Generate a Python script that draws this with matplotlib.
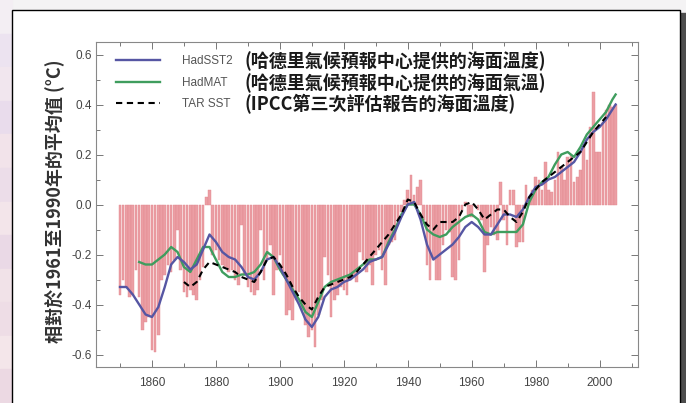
import matplotlib

matplotlib.use("Agg")
import matplotlib.pyplot as plt
from matplotlib.patches import Rectangle

plt.rcParams["font.family"] = ["Liberation Sans", "DejaVu Sans"]
plt.rcParams["axes.unicode_minus"] = False

W, H = 686, 403
CJK = ["Noto Sans CJK TC", "DejaVu Sans"]

# ── data ──────────────────────────────────────────────────────────────────────
years = list(range(1850, 2006))
sst_annual = [
    -0.36, -0.30, -0.33, -0.37, -0.36, -0.26, -0.37, -0.50, -0.47, -0.45,  # 1850s
    -0.58, -0.59, -0.52, -0.30, -0.28, -0.24, -0.27, -0.22, -0.10, -0.26,  # 1860s
    -0.35, -0.37, -0.34, -0.36, -0.38, -0.30, -0.25, 0.03, 0.06, -0.20,    # 1870s
    -0.18, -0.22, -0.24, -0.25, -0.27, -0.26, -0.30, -0.32, -0.08, -0.28,  # 1880s
    -0.33, -0.35, -0.36, -0.34, -0.10, -0.30, -0.22, -0.16, -0.36, -0.26,  # 1890s
    -0.20, -0.28, -0.44, -0.42, -0.46, -0.38, -0.35, -0.42, -0.48, -0.53,  # 1900s
    -0.50, -0.57, -0.44, -0.38, -0.21, -0.28, -0.45, -0.38, -0.36, -0.33,  # 1910s
    -0.34, -0.36, -0.30, -0.29, -0.31, -0.19, -0.22, -0.27, -0.24, -0.32,  # 1920s
    -0.20, -0.18, -0.26, -0.32, -0.16, -0.15, -0.14, -0.06, -0.03, 0.02,   # 1930s
    0.06, 0.12, 0.04, 0.07, 0.10, -0.06, -0.24, -0.30, -0.22, -0.30,       # 1940s
    -0.30, -0.16, -0.10, -0.11, -0.29, -0.30, -0.22, -0.02, 0.01, -0.04,   # 1950s
    -0.05, 0.00, -0.02, -0.06, -0.27, -0.16, -0.09, -0.12, -0.14, 0.09,    # 1960s
    -0.06, -0.16, 0.06, 0.06, -0.17, -0.15, -0.15, 0.08, 0.03, 0.06,       # 1970s
    0.11, 0.10, 0.06, 0.17, 0.06, 0.05, 0.10, 0.21, 0.15, 0.10,            # 1980s
    0.19, 0.20, 0.09, 0.11, 0.14, 0.23, 0.18, 0.31, 0.45, 0.21,            # 1990s
    0.21, 0.33, 0.38, 0.40, 0.39, 0.40,                                    # 2000s
]

sst_smooth_years = list(range(1850, 2005, 2)) + [2005]
sst_smooth = [
    -0.33, -0.33, -0.36, -0.40, -0.44, -0.45, -0.41, -0.33, -0.24, -0.21,
    -0.23, -0.26, -0.24, -0.18, -0.12, -0.15, -0.19, -0.21, -0.22, -0.25,
    -0.29, -0.30, -0.27, -0.22, -0.21, -0.25, -0.30, -0.35, -0.40, -0.46,
    -0.49, -0.45, -0.37, -0.34, -0.33, -0.31, -0.30, -0.28, -0.26, -0.23,
    -0.22, -0.21, -0.16, -0.11, -0.05, 0.00, 0.01, -0.06, -0.16, -0.22,
    -0.20, -0.18, -0.16, -0.13, -0.09, -0.07, -0.09, -0.12, -0.12, -0.08,
    -0.04, -0.04, -0.05, -0.02, 0.03, 0.07, 0.08, 0.10, 0.11, 0.13,
    0.15, 0.17, 0.21, 0.26, 0.29, 0.31, 0.34, 0.38, 0.40,
]

mat_years = list(range(1856, 2005, 2)) + [2005]
mat_smooth = [
    -0.23, -0.24, -0.24, -0.22, -0.20, -0.17, -0.19, -0.25, -0.27, -0.22,
    -0.17, -0.17, -0.22, -0.27, -0.29, -0.29, -0.28, -0.28, -0.27, -0.24,
    -0.19, -0.21, -0.26, -0.30, -0.34, -0.38, -0.43, -0.45, -0.39, -0.33,
    -0.31, -0.30, -0.29, -0.28, -0.26, -0.24, -0.22, -0.22, -0.21, -0.15,
    -0.10, -0.04, 0.00, 0.00, -0.04, -0.10, -0.12, -0.13, -0.12, -0.09,
    -0.07, -0.05, -0.04, -0.06, -0.11, -0.12, -0.11, -0.11, -0.11, -0.11,
    -0.08, 0.01, 0.06, 0.09, 0.11, 0.16, 0.20, 0.21, 0.19, 0.23,
    0.28, 0.31, 0.34, 0.37, 0.42, 0.44,
]

tar_years = list(range(1870, 2003, 2))
tar_sst = [
    -0.31, -0.33, -0.31, -0.26, -0.23, -0.24, -0.25, -0.26, -0.27, -0.29,
    -0.30, -0.31, -0.27, -0.22, -0.21, -0.24, -0.28, -0.33, -0.37, -0.40,
    -0.42, -0.37, -0.33, -0.32, -0.31, -0.30, -0.29, -0.27, -0.24, -0.21,
    -0.18, -0.15, -0.12, -0.08, -0.04, 0.02, 0.01, -0.04, -0.08, -0.10,
    -0.07, -0.07, -0.07, -0.05, 0.00, 0.01, -0.02, -0.06, -0.04, -0.02,
    -0.02, -0.05, -0.07, -0.03, 0.03, 0.06, 0.09, 0.11, 0.13, 0.15,
    0.17, 0.19, 0.21, 0.25, 0.29, 0.32, 0.35,
]

legend_names = ["HadSST2", "HadMAT", "TAR SST"]
legend_cjk = [
    "(哈德里氣候預報中心提供的海面溫度)",
    "(哈德里氣候預報中心提供的海面氣溫)",
    "(IPCC第三次評估報告的海面溫度)",
]
y_label = "相對於1961至1990年的平均值 (°C)"
x_ticks = list(range(1860, 2001, 20))
y_ticks = [-0.6, -0.4, -0.2, 0.0, 0.2, 0.4, 0.6]

# ── page background: slide edge, card and shadow ─────────────────────────────
fig = plt.figure(figsize=(W / 100, H / 100), dpi=100)
fig.patch.set_facecolor("#f4f3f4")

stripe_colors = ["#f3eef3", "#ece3f0", "#f1e6ee", "#e9dcec", "#f2e3ea",
                 "#ecdde9", "#f3e5ea", "#ead9e6", "#f1e2e8", "#eedde6",
                 "#f4e6ea", "#ecd9e3"]
n = len(stripe_colors)
for i, c in enumerate(stripe_colors):
    fig.add_artist(Rectangle((0, 1 - (i + 1) / n), 12 / W, 1 / n,
                             transform=fig.transFigure, color=c, zorder=0))
fig.add_artist(Rectangle((680 / W, 0), 6 / W, 1 - 13 / H, transform=fig.transFigure,
                         color="#4d4d4d", zorder=0))
fig.add_artist(Rectangle((12 / W, -0.02), 668 / W, 1 - 10 / H + 0.02,
                         transform=fig.transFigure, facecolor="white",
                         edgecolor="black", linewidth=1.0, zorder=0))

# ── chart ─────────────────────────────────────────────────────────────────────
ax = fig.add_axes([96 / W, 36 / H, 542 / W, 325 / H])
ax.bar(years, sst_annual, width=0.82, color="#eb9ea4", edgecolor="#e3878f",
       linewidth=0.3, zorder=1)
h_mat, = ax.plot(mat_years, mat_smooth, color="#3f9d5e", lw=1.7, zorder=3)
h_sst, = ax.plot(sst_smooth_years, sst_smooth, color="#5656a3", lw=1.7, zorder=4)
h_tar, = ax.plot(tar_years, tar_sst, color="black", lw=1.5, ls=(0, (3, 2.2)), zorder=5)

ax.set_xlim(1842.5, 2012)
ax.set_ylim(-0.65, 0.65)
ax.set_xticks(x_ticks)
ax.set_xticks(range(1850, 2011, 10), minor=True)
ax.set_yticks(y_ticks)
ax.set_yticks([v / 10 for v in range(-6, 7)], minor=True)
ax.set_yticklabels([f"{v:.1f}" for v in y_ticks])
ax.tick_params(which="both", direction="in", top=True, right=True,
               color="#777777", labelsize=8.5, labelcolor="#444444", width=0.7)
ax.tick_params(which="major", length=5)
ax.tick_params(which="minor", length=3)
ax.tick_params(axis="x", which="major", pad=7)
ax.tick_params(axis="y", which="major", pad=3)
for s in ax.spines.values():
    s.set_color("#888888")
    s.set_linewidth(0.8)

fs = 8.5
leg = ax.legend([h_sst, h_mat, h_tar], legend_names, loc="upper left",
                bbox_to_anchor=(20 / 542, 1 - 13.5 / 325), frameon=False, fontsize=fs,
                handlelength=3.7, handletextpad=1.85, labelspacing=0.8,
                borderaxespad=0, borderpad=0)
for t in leg.get_texts():
    t.set_color("#555555")

fig.canvas.draw()
for t, cjk in zip(leg.get_texts(), legend_cjk):
    bb = t.get_window_extent()
    fig.text(245 / W, (bb.y0 + bb.y1) / 2 / H, cjk, ha="left", va="center",
             fontsize=13, fontweight="bold", family=CJK, color="#1a1a1a")

fig.text(55 / W, 1 - 201 / H, y_label, rotation=90, ha="center", va="center",
         fontsize=13, fontweight="bold", family=CJK, color="#333333")

fig.savefig("out.png", dpi=100, facecolor=fig.get_facecolor())
